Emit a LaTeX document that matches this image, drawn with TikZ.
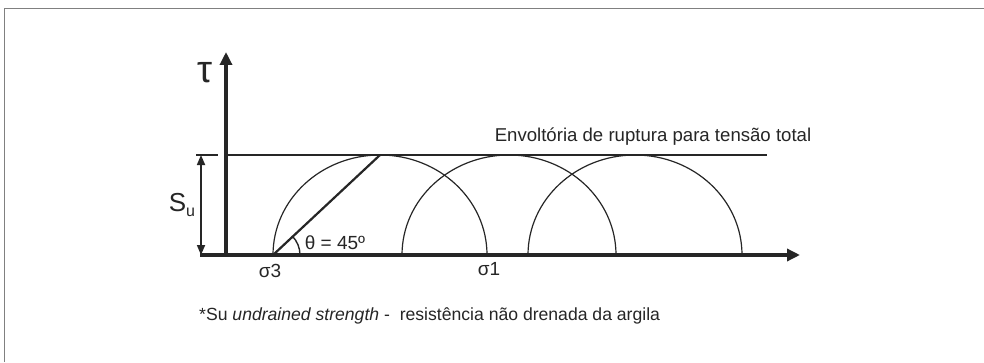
\documentclass[tikz,border=0pt]{standalone}
\usepackage{fontspec}
\setmainfont{Liberation Sans}
\usetikzlibrary{arrows.meta}
\begin{document}
\begin{tikzpicture}[x=1pt,y=1pt,
  axis/.style={line width=3.4pt,draw=black!85,-{Triangle[length=13pt,width=12pt]}},
  env/.style={line width=2.3pt,draw=black!85},
  mohr/.style={line width=1.2pt,draw=black!85},
  dim/.style={line width=1.7pt,draw=black!85,{Triangle[length=10pt,width=8pt]}-{Triangle[length=10pt,width=8pt]}},
  lbl/.style={inner sep=0pt,text=black!85}]
\useasboundingbox (0,0) rectangle (984,362);
\fill[white] (0,0) rectangle (984,362);
\draw[line width=1.6pt,draw=black!50] (4.5,0) -- (4.5,353.5) -- (984,353.5);
% coordinates
\coordinate (O) at (226,107);
\coordinate (xs) at (200,107);
\coordinate (xe) at (800,107);
\coordinate (ye) at (226,310);
\coordinate (es) at (226,207);
\coordinate (ee) at (767,207);
\coordinate (ts) at (196,207);
\coordinate (te) at (218,207);
\coordinate (da) at (201,207);
\coordinate (db) at (201,107);
\coordinate (s3) at (273,107);
\coordinate (p1) at (380,207);
\coordinate (c1) at (380,107);
\coordinate (c2) at (509,107);
\coordinate (c3) at (635,107);
% Mohr circles
\draw[mohr] (c1) ++(107,0) arc[start angle=0,end angle=180,x radius=107,y radius=100];
\draw[mohr] (c2) ++(107,0) arc[start angle=0,end angle=180,x radius=107,y radius=100];
\draw[mohr] (c3) ++(107,0) arc[start angle=0,end angle=180,x radius=107,y radius=100];
% envelope
\draw[env] (es) -- (ee);
\draw[line width=1.7pt,draw=black!85] (ts) -- (te);
% axes
\draw[axis] (xs) -- (xe);
\draw[axis] (O) -- (ye);
% Su dimension
\draw[dim] (da) -- (db);
% 45 line and angle
\draw[line width=2.2pt,draw=black!85] (s3) -- (p1);
\draw[line width=1.4pt,draw=black!85] (s3) ++(27,0) arc[start angle=0,end angle=45,radius=27];
% labels
\node[lbl,font=\fontsize{38}{38}\selectfont] (tau) at (205,289) {τ};
\node[lbl,font=\fontsize{26}{26}\selectfont] (su) at (182,157) {S\raisebox{-6pt}{\fontsize{16}{16}\selectfont u}};
\node[lbl,font=\fontsize{19}{19}\selectfont] (sig3) at (270,91) {σ3};
\node[lbl,font=\fontsize{19}{19}\selectfont] (sig1) at (489,93) {σ1};
\node[lbl,font=\fontsize{19}{19}\selectfont] (th) at (335,119) {θ = 45º};
\node[lbl,font=\fontsize{18.6}{18.6}\selectfont] (envt) at (653,225) {Envoltória de ruptura para tensão total};
\node[lbl,font=\fontsize{17.6}{17.6}\selectfont,anchor=west] (foot) at (199,46) {*Su \textit{undrained strength} -\ \ resistência não drenada da argila};
\end{tikzpicture}
\end{document}
